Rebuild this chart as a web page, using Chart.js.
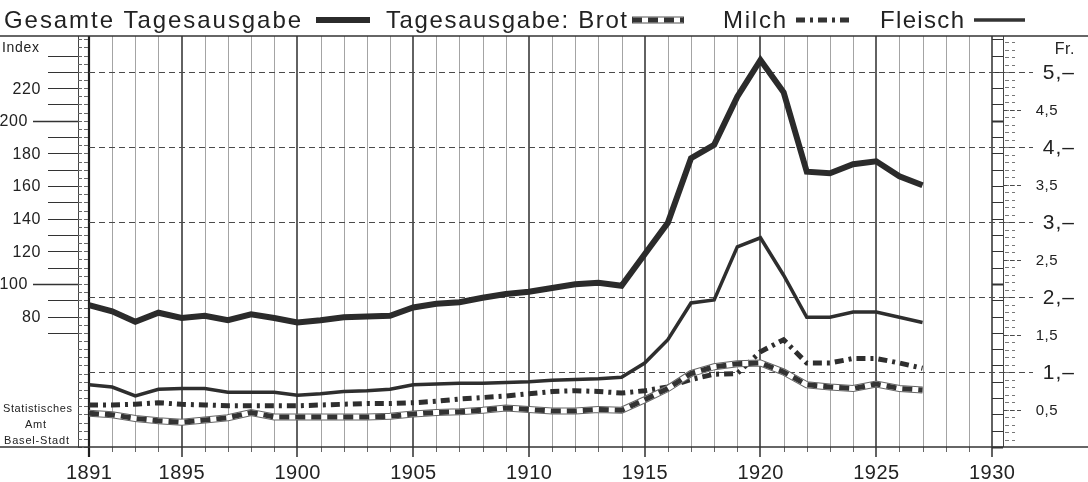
<!DOCTYPE html>
<html><head><meta charset="utf-8">
<script src="https://cdn.jsdelivr.net/npm/chart.js@4/dist/chart.umd.min.js"></script>
<style>html,body{margin:0;padding:0;background:#fff;overflow:hidden}canvas{display:block}</style>
</head><body>
<canvas id="c" width="1088" height="482"></canvas>
<script>
// ---- data (Fr. per day) ----
const years   = [1891,1892,1893,1894,1895,1896,1897,1898,1899,1900,1901,1902,1903,1904,1905,1906,1907,1908,1909,1910,1911,1912,1913,1914,1915,1916,1917,1918,1919,1920,1921,1922,1923,1924,1925,1926,1927];
const gesamt  = [1.89,1.81,1.67,1.79,1.72,1.75,1.69,1.77,1.72,1.66,1.69,1.73,1.74,1.75,1.86,1.91,1.93,1.99,2.04,2.07,2.12,2.17,2.19,2.15,2.57,2.99,3.85,4.03,4.67,5.16,4.73,3.67,3.65,3.77,3.81,3.61,3.49];
const fleisch = [0.83,0.80,0.68,0.77,0.78,0.78,0.73,0.73,0.73,0.69,0.71,0.74,0.75,0.77,0.83,0.84,0.85,0.85,0.86,0.87,0.89,0.90,0.91,0.93,1.12,1.43,1.92,1.96,2.67,2.79,2.29,1.73,1.73,1.80,1.80,1.73,1.66];
const milch   = [0.56,0.56,0.57,0.59,0.57,0.56,0.55,0.55,0.55,0.55,0.56,0.57,0.58,0.58,0.59,0.61,0.64,0.66,0.68,0.71,0.74,0.75,0.74,0.72,0.75,0.80,0.90,0.97,0.98,1.27,1.43,1.12,1.12,1.18,1.18,1.12,1.05];
const brot    = [0.45,0.43,0.38,0.35,0.33,0.36,0.39,0.46,0.40,0.40,0.40,0.40,0.40,0.41,0.44,0.46,0.47,0.49,0.52,0.50,0.48,0.48,0.50,0.49,0.63,0.78,0.98,1.07,1.11,1.12,1.00,0.83,0.80,0.78,0.84,0.78,0.76];

// ---- tick labels ----
const yearTicks      = [1891,1895,1900,1905,1910,1915,1920,1925,1930];
const indexLabels    = [220,200,180,160,140,120,100,80];
const frMajor        = [5,4,3,2,1];
const frMajorLabels  = ['5,–','4,–','3,–','2,–','1,–'];
const frHalf         = [4.5,3.5,2.5,1.5,0.5];
const frHalfLabels   = ['4,5','3,5','2,5','1,5','0,5'];
const legendLabels   = ['Gesamte Tagesausgabe','Tagesausgabe: Brot','Milch','Fleisch'];
const footerLines    = ['Statistisches','Amt','Basel-Stadt'];
const indexTitle = 'Index';
const frTitle = 'Fr.';

const FONT = "'Liberation Sans', Arial, Helvetica, sans-serif";
const INK = '#222';

function pts(vals){ return years.map((yr,i)=>({x:yr,y:vals[i]})); }

function fitText(ctx, text, x0, x1, yb, font){
  ctx.font = font;
  ctx.textAlign = 'left';
  const hasLS = ('letterSpacing' in ctx);
  if (hasLS) ctx.letterSpacing = '0px';
  const w = ctx.measureText(text).width;
  const n = text.length;
  const target = x1 - x0;
  if (hasLS && n > 1){
    ctx.letterSpacing = ((target - w)/(n-1)).toFixed(2) + 'px';
    ctx.fillText(text, x0, yb);
    ctx.letterSpacing = '0px';
  } else {
    ctx.save(); ctx.translate(x0, yb); ctx.scale(target/w, 1); ctx.fillText(text, 0, 0); ctx.restore();
  }
}

function line(ctx, x0, y0, x1, y1){ ctx.beginPath(); ctx.moveTo(x0,y0); ctx.lineTo(x1,y1); ctx.stroke(); }

const deco = {
  id: 'deco',
  beforeDatasetsDraw(chart){
    const {ctx, chartArea:a, scales} = chart;
    const x = scales.x, y = scales.y, yi = scales.yi;
    ctx.save();
    // vertical year lines
    for (let yr = 1891; yr <= 1930; yr++){
      const px = Math.round(x.getPixelForValue(yr));
      const major = (yr % 5 === 0);
      if (yr === 1891){
        ctx.strokeStyle = '#1e1e1e'; ctx.lineWidth = 2.2;
        line(ctx, px, a.top, px, a.bottom + 10);
      } else if (major){
        ctx.strokeStyle = '#2e2e2e'; ctx.lineWidth = 1.5;
        line(ctx, px, a.top, px, a.bottom + 10);
      } else {
        ctx.strokeStyle = '#a4a4a4'; ctx.lineWidth = 1;
        line(ctx, px + 0.5, a.top, px + 0.5, a.bottom);
        ctx.strokeStyle = '#666';
        line(ctx, px + 0.5, a.bottom, px + 0.5, a.bottom + 5);
      }
    }
    // left ruler outer line + right ruler outer line
    const lOut = a.left - 11, rOut = a.right + 11;
    ctx.strokeStyle = '#444'; ctx.lineWidth = 1;
    line(ctx, lOut + 0.5, a.top, lOut + 0.5, a.bottom);
    line(ctx, rOut + 0.5, a.top, rOut + 0.5, a.bottom);
    // left ruler small ticks (index every 5)
    ctx.strokeStyle = '#666';
    for (let v = 0; v <= 250; v += 5){
      const py = Math.round(yi.getPixelForValue(v)) + 0.5;
      line(ctx, lOut, py, lOut + 4, py);
      line(ctx, a.left - 5, py, a.left - 1, py);
    }
    // left index ticks
    ctx.strokeStyle = '#333';
    for (let v = 70; v <= 240; v += 10){
      const py = Math.round(yi.getPixelForValue(v)) + 0.5;
      ctx.lineWidth = (v % 100 === 0) ? 1.6 : 1;
      line(ctx, (v % 100 === 0) ? 33 : 48, py, lOut, py);
    }
    // right ruler inner index ticks
    for (let v = 0; v <= 250; v += 10){
      const py = Math.round(yi.getPixelForValue(v)) + 0.5;
      ctx.lineWidth = (v % 100 === 0) ? 2 : 1;
      line(ctx, a.right, py, rOut, py);
    }
    // right small Fr ticks
    ctx.strokeStyle = '#777'; ctx.lineWidth = 1;
    for (let k = 1; k <= 54; k++){
      const py = Math.round(y.getPixelForValue(k/10)) + 0.5;
      line(ctx, rOut + 2, py, rOut + 6, py);
      line(ctx, rOut + 9, py, rOut + 12, py);
    }
    // dashed horizontal Fr gridlines
    ctx.strokeStyle = '#4a4a4a'; ctx.lineWidth = 1; ctx.setLineDash([6,4]);
    frMajor.forEach(v => {
      const py = Math.round(y.getPixelForValue(v)) + 0.5;
      line(ctx, a.left, py, rOut + 30, py);
    });
    ctx.setLineDash([4,3]);
    frHalf.forEach(v => {
      const py = Math.round(y.getPixelForValue(v)) + 0.5;
      line(ctx, rOut, py, rOut + 20, py);
    });
    ctx.setLineDash([]);
    // top and bottom borders
    ctx.strokeStyle = '#333'; ctx.lineWidth = 1.6;
    line(ctx, 0, a.top, chart.width, a.top);
    line(ctx, 0, a.bottom, chart.width, a.bottom);
    ctx.restore();
  },
  afterDraw(chart){
    const {ctx, chartArea:a, scales} = chart;
    const x = scales.x, y = scales.y, yi = scales.yi;
    ctx.save();
    ctx.fillStyle = INK;
    // year labels
    yearTicks.forEach(yr => {
      const px = x.getPixelForValue(yr);
      fitText(ctx, String(yr), px - 23, px + 23, 479, '20px ' + FONT);
    });
    // index labels
    ctx.textBaseline = 'middle';
    ctx.font = '16px ' + FONT; ctx.textAlign = 'right';
    if ('letterSpacing' in ctx) ctx.letterSpacing = '0.6px';
    indexLabels.forEach(v => {
      const py = yi.getPixelForValue(v);
      ctx.fillText(String(v), (v % 100 === 0) ? 28 : 41, py + 1);
    });
    if ('letterSpacing' in ctx) ctx.letterSpacing = '0px';
    fitText(ctx, indexTitle, 2, 39, 48, '14px ' + FONT);
    // Fr labels
    ctx.textAlign = 'right';
    if ('letterSpacing' in ctx) ctx.letterSpacing = '1px';
    ctx.font = '21px ' + FONT;
    frMajor.forEach((v,i) => ctx.fillText(frMajorLabels[i], 1075, y.getPixelForValue(v) + 1));
    ctx.font = '15px ' + FONT;
    if ('letterSpacing' in ctx) ctx.letterSpacing = '0.5px';
    frHalf.forEach((v,i) => ctx.fillText(frHalfLabels[i], 1058, y.getPixelForValue(v) + 1));
    ctx.font = '16px ' + FONT;
    ctx.fillText(frTitle, 1075, 50);
    if ('letterSpacing' in ctx) ctx.letterSpacing = '0px';
    // footer
    ctx.textBaseline = 'alphabetic';
    fitText(ctx, footerLines[0], 3, 72, 412, '11px ' + FONT);
    fitText(ctx, footerLines[1], 25, 46, 428, '11px ' + FONT);
    fitText(ctx, footerLines[2], 4, 69, 444, '11px ' + FONT);
    // legend
    const LF = '24px ' + FONT;
    fitText(ctx, legendLabels[0], 4, 301, 28, LF);
    fitText(ctx, legendLabels[1], 386, 627, 28, LF);
    fitText(ctx, legendLabels[2], 723, 786, 28, LF);
    fitText(ctx, legendLabels[3], 880, 964, 28, LF);
    const ly = 20;
    ctx.lineCap = 'butt';
    // Gesamt symbol
    ctx.strokeStyle = '#2b2b2b'; ctx.lineWidth = 6; line(ctx, 316, ly, 370, ly);
    // Brot symbol
    ctx.strokeStyle = '#555'; ctx.lineWidth = 7; line(ctx, 632, ly, 684, ly);
    ctx.strokeStyle = '#fff'; ctx.lineWidth = 5; line(ctx, 633, ly, 683, ly);
    ctx.strokeStyle = '#333'; ctx.lineWidth = 5; ctx.setLineDash([10,6]); line(ctx, 632, ly, 684, ly);
    // Milch symbol
    ctx.setLineDash([9,5,3,5]); ctx.lineWidth = 5; line(ctx, 796, ly, 849, ly);
    ctx.setLineDash([]);
    // Fleisch symbol
    ctx.lineWidth = 3.5; line(ctx, 974, ly, 1025, ly);
    ctx.restore();
  }
};

const base = {fill:false, pointRadius:0, tension:0, borderCapStyle:'butt', borderJoinStyle:'miter'};
new Chart(document.getElementById('c'), {
  type: 'line',
  data: {
    datasets: [
      Object.assign({label:'Brot', data: pts(brot), borderColor:'#333', borderWidth:5, borderDash:[10,6], order:0}, base),
      Object.assign({label:'Brot_w', data: pts(brot), borderColor:'#fff', borderWidth:5, order:1}, base),
      Object.assign({label:'Brot_o', data: pts(brot), borderColor:'#666', borderWidth:7, order:2}, base),
      Object.assign({label:'Milch', data: pts(milch), borderColor:'#2e2e2e', borderWidth:5, borderDash:[9,5,3,5], order:3}, base),
      Object.assign({label:'Fleisch', data: pts(fleisch), borderColor:'#2e2e2e', borderWidth:3.5, order:4}, base),
      Object.assign({label:'Gesamte Tagesausgabe', data: pts(gesamt), borderColor:'#2b2b2b', borderWidth:6, order:5}, base)
    ]
  },
  options: {
    responsive: false,
    animation: false,
    devicePixelRatio: 1,
    layout: {padding: {left: 89, right: 96, top: 36, bottom: 35}},
    plugins: {legend:{display:false}, tooltip:{enabled:false}},
    scales: {
      x:  {type:'linear', min:1891, max:1930, display:false},
      y:  {type:'linear', min:0, max:5.48, display:false},
      yi: {type:'linear', min:0, max:252, display:false, position:'left'}
    }
  },
  plugins: [deco]
});
</script>
</body></html>
